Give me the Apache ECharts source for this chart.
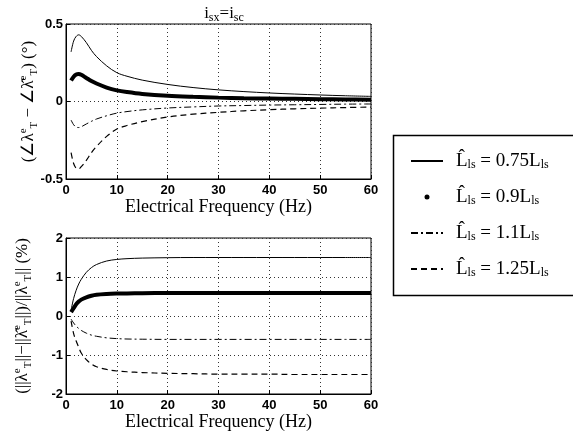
<!DOCTYPE html>
<html>
<head>
  <meta charset="utf-8">
</head>
<body style="margin: 0; background: #fff">
  <div id="container" style="width: 573px; height: 438px"></div>
  <script src="https://cdn.jsdelivr.net/npm/echarts@6.0.0/dist/echarts.min.js"></script>
  <script type="text/javascript">
    // frequency samples (Hz)
    var freq = [1, 1.5, 2, 2.5, 3, 4, 5, 6, 8, 10, 12, 15, 20, 25, 30, 35, 40, 45, 50, 55, 60];

    // angle error (deg), top plot
    var angle075 = [0.32, 0.39, 0.42, 0.43, 0.42, 0.38, 0.33, 0.29, 0.23, 0.186, 0.163, 0.138, 0.11, 0.09, 0.075, 0.064, 0.055, 0.048, 0.042, 0.037, 0.033];
    var angle09 = [0.135, 0.16, 0.174, 0.177, 0.172, 0.152, 0.132, 0.116, 0.09, 0.072, 0.061, 0.049, 0.037, 0.03, 0.025, 0.021, 0.019, 0.017, 0.015, 0.013, 0.012];
    var angle11 = [-0.12, -0.15, -0.165, -0.168, -0.163, -0.145, -0.128, -0.113, -0.092, -0.075, -0.065, -0.054, -0.042, -0.035, -0.029, -0.026, -0.023, -0.021, -0.019, -0.017, -0.016];
    var angle125 = [-0.33, -0.4, -0.43, -0.435, -0.42, -0.38, -0.33, -0.29, -0.225, -0.178, -0.155, -0.13, -0.1, -0.082, -0.07, -0.06, -0.053, -0.047, -0.043, -0.039, -0.036];

    // magnitude error (%), bottom plot
    var mag075 = [0.15, 0.45, 0.66, 0.82, 0.94, 1.12, 1.24, 1.32, 1.41, 1.45, 1.47, 1.485, 1.495, 1.5, 1.5, 1.5, 1.5, 1.5, 1.5, 1.5, 1.5];
    var mag09 = [0.1, 0.2, 0.3, 0.37, 0.42, 0.48, 0.52, 0.545, 0.565, 0.575, 0.58, 0.585, 0.59, 0.59, 0.59, 0.59, 0.59, 0.59, 0.59, 0.59, 0.59];
    var mag11 = [-0.08, -0.18, -0.26, -0.32, -0.37, -0.44, -0.49, -0.52, -0.56, -0.58, -0.59, -0.595, -0.6, -0.6, -0.6, -0.6, -0.6, -0.6, -0.6, -0.6, -0.6];
    var mag125 = [-0.13, -0.45, -0.64, -0.8, -0.95, -1.12, -1.23, -1.3, -1.37, -1.41, -1.43, -1.45, -1.47, -1.48, -1.49, -1.49, -1.49, -1.5, -1.5, -1.5, -1.5];

    var names = ['0.75', '0.9', '1.1', '1.25'];
    var xTicks = { min: 0, max: 60, interval: 10 };

    var serif = 'Liberation Serif';
    var styles = [
      { type: 'solid', width: 1 },
      { type: 'solid', width: 4 },
      { type: [7, 3, 2, 3], width: 1 },
      { type: [6, 4], width: 1.2 }
    ];

    function pairs(ys) {
      return freq.map(function (f, i) { return [f, ys[i]]; });
    }

    function makeSeries(idx, data, k) {
      return {
        name: names[k],
        type: 'line',
        xAxisIndex: idx,
        yAxisIndex: idx,
        data: pairs(data),
        smooth: 0.35,
        symbol: 'none',
        silent: true,
        itemStyle: { color: '#000' },
        lineStyle: { color: '#000', type: styles[k].type, width: styles[k].width }
      };
    }

    var tickLabel = { color: '#000', fontFamily: 'Liberation Sans', fontWeight: 'bold', fontSize: 13 };
    var dotted = { show: true, lineStyle: { color: '#333', type: [1, 3], width: 1 } };
    var richSub = {
      sup: { fontFamily: serif, fontSize: 11, verticalAlign: 'top', lineHeight: 11 },
      sub: { fontFamily: serif, fontSize: 11, verticalAlign: 'bottom', lineHeight: 11 }
    };

    function xAxis(idx) {
      return {
        type: 'value', gridIndex: idx,
        min: xTicks.min, max: xTicks.max, interval: xTicks.interval,
        name: 'Electrical Frequency (Hz)',
        nameLocation: 'middle', nameGap: 18,
        nameTextStyle: { fontFamily: serif, fontSize: 18, color: '#000' },
        axisLine: { onZero: false, lineStyle: { color: '#000', width: 1 } },
        axisTick: { inside: true, length: 4, lineStyle: { color: '#000' } },
        axisLabel: Object.assign({ margin: 5 }, tickLabel),
        splitLine: dotted
      };
    }

    function yAxis(idx, min, max, interval, name, gap) {
      return {
        type: 'value', gridIndex: idx,
        min: min, max: max, interval: interval,
        name: name, nameLocation: 'middle', nameRotate: 90, nameGap: gap,
        nameMoveOverlap: false,
        nameTextStyle: { fontFamily: serif, fontSize: 17, color: '#000', lineHeight: 22, rich: richSub },
        axisLine: { lineStyle: { color: '#000', width: 1 } },
        axisTick: { inside: true, length: 4, lineStyle: { color: '#000' } },
        axisLabel: Object.assign({ margin: 3 }, tickLabel),
        splitLine: dotted
      };
    }

    var chart = echarts.init(document.getElementById('container'), null, { renderer: 'canvas' });

    var hideSym = { opacity: 0 };

    var option = {
      animation: false,
      backgroundColor: '#fff',
      title: {
        text: 'i{s|sx}=i{s|sc}',
        left: 219, top: -1, textAlign: 'center',
        textStyle: {
          fontFamily: serif, fontSize: 17, fontWeight: 'normal', color: '#000', lineHeight: 20,
          rich: { s: { fontFamily: serif, fontSize: 12, verticalAlign: 'bottom', lineHeight: 11 } }
        }
      },
      // legend frame runs off the right edge, as in the scan
      graphic: [{
        type: 'rect', left: 391, top: 133, silent: true,
        shape: { width: 200, height: 160 },
        style: { fill: 'none', stroke: '#000', lineWidth: 1.5 }
      }],
      legend: {
        data: [
          { name: '0.75', itemStyle: hideSym },
          { name: '0.9', icon: 'circle', itemStyle: { color: '#000' } },
          { name: '1.1', itemStyle: hideSym },
          { name: '1.25', itemStyle: hideSym }
        ],
        orient: 'vertical',
        left: 393, top: 134,
        itemWidth: 32, itemHeight: 5, itemGap: 16,
        padding: [17, 10, 15, 17],
        selectedMode: false,
        formatter: function (n) {
          return '{t|L\u0302}{s|ls}{u| = ' + n + 'L}{s|ls}';
        },
        textStyle: {
          color: '#000', fontFamily: serif, fontSize: 19, lineHeight: 20,
          rich: {
            t: { fontFamily: serif, fontSize: 19, padding: [0, 0, 0, 8] },
            u: { fontFamily: serif, fontSize: 19 },
            s: { fontFamily: serif, fontSize: 12, verticalAlign: 'bottom', lineHeight: 12 }
          }
        }
      },
      grid: [
        { left: 66, top: 24, width: 305, height: 155, show: true, borderColor: '#000', borderWidth: 1 },
        { left: 66, top: 238, width: 305, height: 156, show: true, borderColor: '#000', borderWidth: 1 }
      ],
      xAxis: [xAxis(0), xAxis(1)],
      yAxis: [
        yAxis(0, -0.5, 0.5, 0.5, '(\u2220\u03bb{sup|e}{sub|T} \u2212 \u2220\u03bb\u0302{sup|e}{sub|T}) (\u00b0)', 26),
        yAxis(1, -2, 2, 1, '(||\u03bb{sup|e}{sub|T}||\u2212||\u03bb\u0302{sup|e}{sub|T}||)/||\u03bb{sup|e}{sub|T}|| (%)', 32)
      ],
      series: [
        makeSeries(0, angle075, 0),
        makeSeries(0, angle09, 1),
        makeSeries(0, angle11, 2),
        makeSeries(0, angle125, 3),
        makeSeries(1, mag075, 0),
        makeSeries(1, mag09, 1),
        makeSeries(1, mag11, 2),
        makeSeries(1, mag125, 3)
      ]
    };

    chart.setOption(option);
    window.addEventListener('resize', chart.resize);
  </script>
</body>
</html>
